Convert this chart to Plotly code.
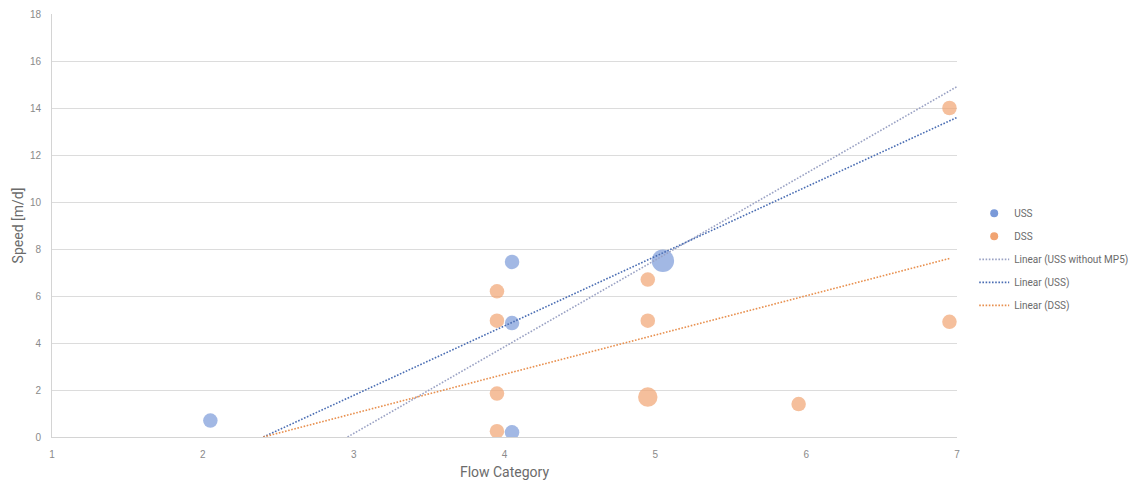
import numpy as np
import plotly.graph_objects as go

# Upstream (USS) and downstream (DSS) measurements
uss_flow = [2.05, 4.05, 4.05, 4.05, 5.05]
uss_speed = [0.7, 7.45, 4.85, 0.2, 7.5]
dss_flow = [3.95, 3.95, 3.95, 3.95, 4.95, 4.95, 4.95, 5.95, 6.95, 6.95]
dss_speed = [6.2, 4.95, 1.85, 0.25, 6.7, 4.95, 1.7, 1.4, 14.0, 4.9]

# Relative bubble weights (1 = single measurement)
uss_weight = [1, 1, 1, 1, 2.4]
dss_weight = [1, 1, 1, 1, 1, 1, 1.8, 1, 1, 1]

# Linear trendlines: slope, intercept and x end of each fit
trend_names = ["Linear (USS without MP5)", "Linear (USS)", "Linear (DSS)"]
trend_slope = [3.69, 2.957, 1.67]
trend_intercept = [-10.92, -7.10, -4.01]
trend_xend = [7.0, 7.0, 6.95]

x_ticks = [1, 2, 3, 4, 5, 6, 7]
y_ticks = [0, 2, 4, 6, 8, 10, 12, 14, 16, 18]

BLUE = "#7a9ad9"
ORANGE = "#f1a472"
TREND_COLORS = ["#9aa2c4", "#4a6db3", "#e8904f"]
BASE_SIZE = 14.5
LEGEND_MARKER = 8

fig = go.Figure()

series = [("USS", uss_flow, uss_speed, uss_weight, BLUE),
          ("DSS", dss_flow, dss_speed, dss_weight, ORANGE)]
for name, xs, ys, ws, col in series:
    fig.add_trace(go.Scatter(
        x=xs, y=ys, mode="markers", name=name, showlegend=False,
        marker=dict(color=col, size=[BASE_SIZE * np.sqrt(w) for w in ws],
                    line=dict(width=0)),
    ))

for name, m, b, xe, col in zip(trend_names, trend_slope, trend_intercept,
                               trend_xend, TREND_COLORS):
    x0 = -b / m  # where the fit meets the x axis
    xs = [x0, xe]
    ys = [m * x + b for x in xs]
    fig.add_trace(go.Scatter(
        x=xs, y=ys, mode="lines", name=name, showlegend=False,
        line=dict(color=col, width=1.6, dash="1.6px,1.6px"),
    ))

# Legend entries with small uniform symbols
for name, col in [("USS", BLUE), ("DSS", ORANGE)]:
    fig.add_trace(go.Scatter(
        x=[None], y=[None], mode="markers", name=name, legendgroup=name,
        marker=dict(color=col, size=LEGEND_MARKER, line=dict(width=0)),
    ))
for name, col in zip(trend_names, TREND_COLORS):
    fig.add_trace(go.Scatter(
        x=[None], y=[None], mode="lines", name=name, legendgroup=name,
        line=dict(color=col, width=1.6, dash="1.6px,1.6px"),
    ))

tick_font = dict(family="Liberation Sans, Arial, sans-serif", size=10, color="#8a8a8a")
title_font = dict(family="Liberation Sans Narrow, Roboto, sans-serif", size=14, color="#6b6b6b")

fig.update_layout(
    width=1140, height=483,
    margin=dict(l=52, r=183, t=14, b=46, autoexpand=False),
    paper_bgcolor="white", plot_bgcolor="white",
    showlegend=True,
    legend=dict(
        x=1.019, y=0.42, xanchor="left", yanchor="middle",
        font=dict(family="Liberation Sans Narrow, Roboto, sans-serif", size=10, color="#6b6b6b"),
        traceorder="grouped", tracegroupgap=4, itemwidth=30, bgcolor="rgba(0,0,0,0)",
    ),
    xaxis=dict(
        range=[1, 7], tickvals=x_ticks, ticktext=[str(v) for v in x_ticks],
        showgrid=False, zeroline=False, showline=True, linecolor="#d4d4d4", linewidth=1,
        ticks="", tickfont=tick_font, ticklabelstandoff=8, automargin=False,
        title=dict(text="Flow Category", font=title_font, standoff=8),
    ),
    yaxis=dict(
        range=[0, 18], tickvals=y_ticks, ticktext=[str(v) for v in y_ticks],
        showgrid=True, gridcolor="#dcdcdc", gridwidth=1, zeroline=False,
        showline=True, linecolor="#d4d4d4", linewidth=1,
        ticks="", tickfont=tick_font, ticklabelstandoff=8, automargin=False,
        title=dict(text="Speed [m/d]", font=title_font, standoff=2),
    ),
)

fig.write_html("out.html")
